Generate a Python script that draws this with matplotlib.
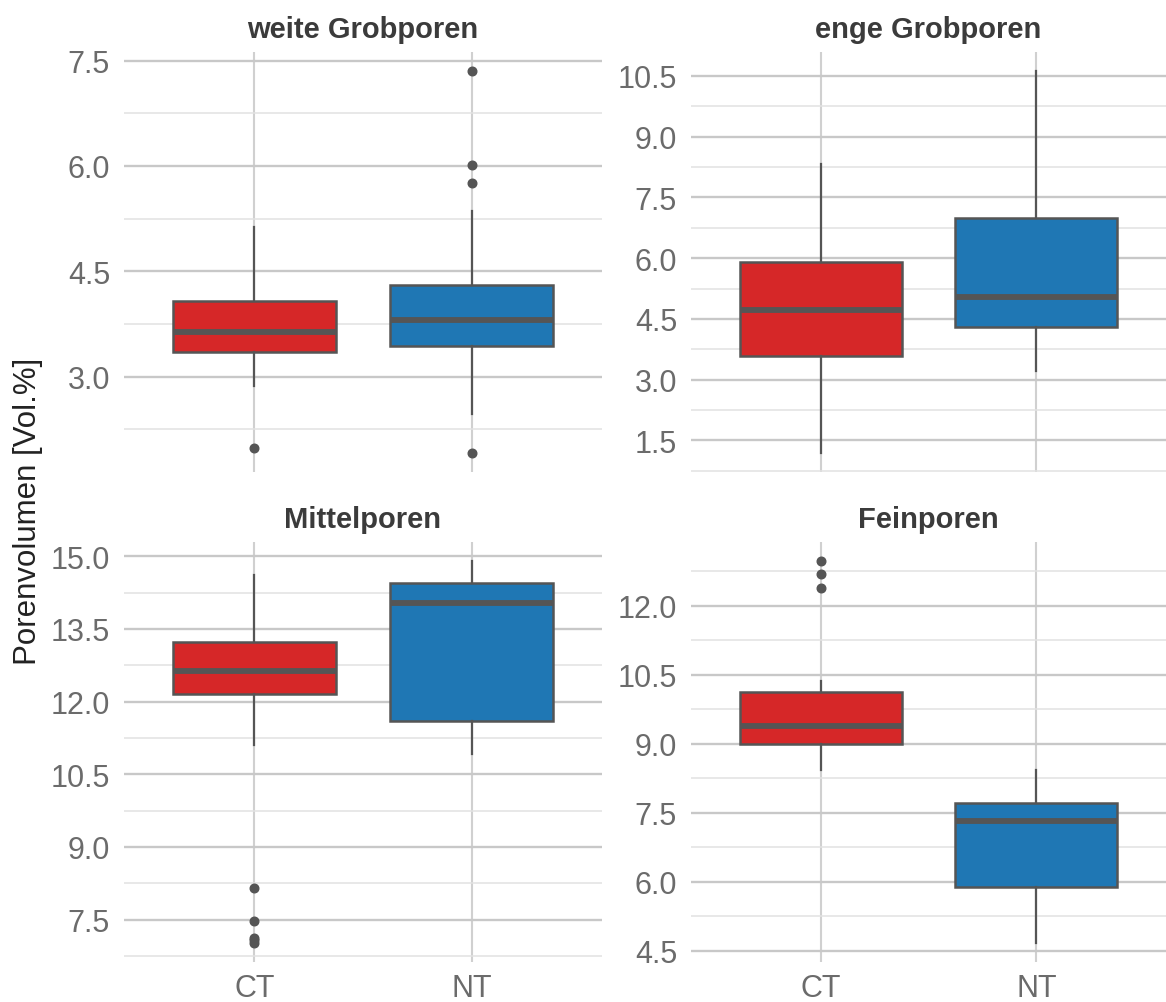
import matplotlib
matplotlib.use("Agg")
import matplotlib.pyplot as plt
from matplotlib.ticker import MultipleLocator, FormatStrFormatter

plt.rcParams["font.family"] = ["Liberation Sans", "DejaVu Sans"]

# facets and groups
panels = ["weite Grobporen", "enge Grobporen", "Mittelporen", "Feinporen"]
groups = ["CT", "NT"]

# box statistics per facet, [CT, NT]
q1 = [[3.35, 3.44], [3.59, 4.30], [12.15, 11.59], [8.99, 5.89]]
med = [[3.635, 3.81], [4.72, 5.05], [12.63, 14.03], [9.39, 7.32]]
q3 = [[4.08, 4.30], [5.90, 7.00], [13.24, 14.45], [10.12, 7.71]]
whislo = [[2.87, 2.47], [1.19, 3.21], [11.10, 10.91], [8.42, 4.67]]
whishi = [[5.13, 5.36], [8.32, 10.62], [14.62, 14.90], [10.36, 8.42]]
fliers = [
    [[1.99], [7.35, 6.02, 5.75, 1.915]],
    [[], []],
    [[8.15, 7.47, 7.12, 7.07, 7.02], []],
    [[12.97, 12.69, 12.38], []],
]

fills = ["#d62728", "#1f77b4"]
edge = "#555555"

W, H = 1166, 1003
fig = plt.figure(figsize=(W / 100, H / 100), dpi=100)

# panel boxes in pixels: left, top, right, bottom
boxes_px = [(124, 53, 602, 473), (691, 53, 1166, 473),
            (124, 543, 602, 963), (691, 543, 1166, 963)]

for i, name in enumerate(panels):
    x0, y0, x1, y1 = boxes_px[i]
    ax = fig.add_axes([x0 / W, 1 - y1 / H, (x1 - x0) / W, (y1 - y0) / H])

    stats = []
    for j, g in enumerate(groups):
        stats.append(dict(label=g, q1=q1[i][j], med=med[i][j], q3=q3[i][j],
                          whislo=whislo[i][j], whishi=whishi[i][j],
                          fliers=fliers[i][j]))

    bp = ax.bxp(stats, positions=[1, 2], widths=0.75, patch_artist=True,
                showcaps=False,
                boxprops=dict(edgecolor=edge, linewidth=1.8),
                medianprops=dict(color=edge, linewidth=4.2, solid_capstyle="butt"),
                whiskerprops=dict(color=edge, linewidth=1.6),
                flierprops=dict(marker="o", markersize=6.2, markerfacecolor=edge,
                                markeredgecolor=edge, linestyle="none"))
    for patch, c in zip(bp["boxes"], fills):
        patch.set_facecolor(c)

    # data range plus 5% on each side
    vals = whislo[i] + whishi[i] + fliers[i][0] + fliers[i][1]
    lo, hi = min(vals), max(vals)
    pad = 0.05 * (hi - lo)
    ax.set_ylim(lo - pad, hi + pad)
    ax.set_xlim(0.4, 2.6)

    ax.yaxis.set_major_locator(MultipleLocator(1.5))
    ax.yaxis.set_minor_locator(MultipleLocator(0.75))
    ax.yaxis.set_major_formatter(FormatStrFormatter("%.1f"))
    ax.set_xticks([1, 2])

    ax.set_axisbelow(True)
    ax.grid(which="major", axis="y", color="#c8c8c8", linewidth=1.7)
    ax.grid(which="minor", axis="y", color="#e2e2e2", linewidth=1.1)
    ax.grid(which="major", axis="x", color="#d0d0d0", linewidth=1.5)

    for s in ax.spines.values():
        s.set_visible(False)
    ax.tick_params(which="both", length=0)
    ax.tick_params(axis="y", labelsize=22, labelcolor="#6b6b6b", pad=10)
    ax.tick_params(axis="x", labelsize=22, labelcolor="#6b6b6b", pad=8)
    if i < 2:
        ax.set_xticklabels([])
    else:
        ax.set_xticklabels(groups)

    ax.set_title(name, fontsize=21, fontweight="bold", color="#3b3b3b", pad=11)

fig.text(28 / W, 1 - 511 / H, "Porenvolumen [Vol.%]", rotation=90,
         ha="center", va="center", fontsize=22.5, color="#222222")

fig.savefig("out.png", dpi=100, facecolor="white")
